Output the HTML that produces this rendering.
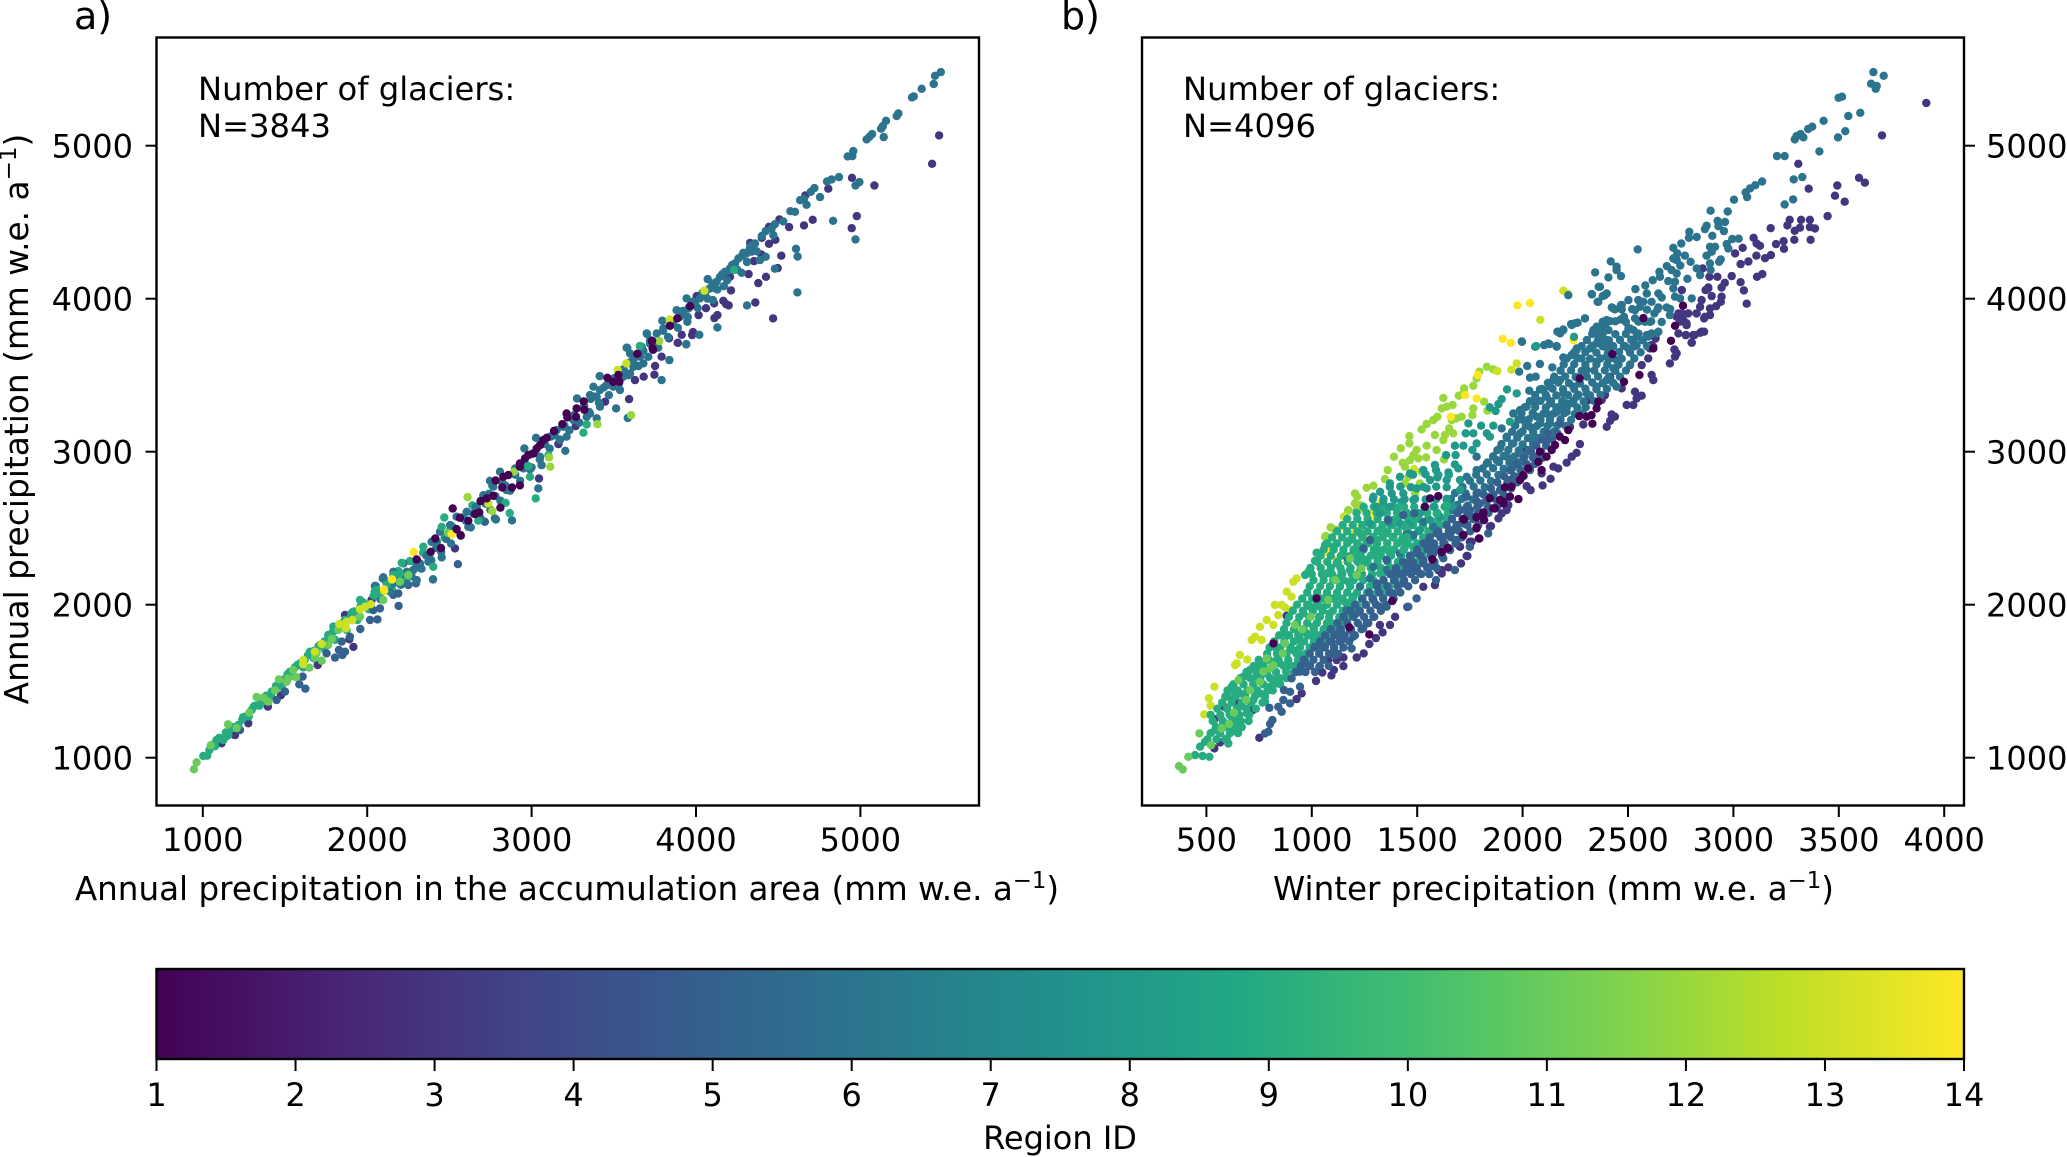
<!DOCTYPE html>
<html lang="en">
<head>
<meta charset="utf-8">
<title>Annual precipitation scatter plots</title>
<style>
html,body{margin:0;padding:0;background:#fff;}
svg{display:block;font-family:"DejaVu Sans","Liberation Sans",sans-serif;fill:#000;}
text{font-size:32px;}
</style>
</head>
<body>
<svg id="figure" xmlns="http://www.w3.org/2000/svg" width="2067" height="1157" viewBox="0 0 2067 1157">
<defs><linearGradient id="viridis-gradient" x1="0" x2="1" y1="0" y2="0"></linearGradient></defs>
<rect x="0" y="0" width="2067" height="1157" fill="#fff"/>
<g id="pointsA"></g>
<g id="pointsB"></g>
<rect id="colorbarFill" x="156.5" y="969" width="1807.5" height="90" fill="url(#viridis-gradient)"/>
<g id="ticks" stroke="#000" stroke-width="2"></g>
<g id="tickLabels"></g>
<rect x="156.5" y="37.5" width="822.5" height="768" fill="none" stroke="#000" stroke-width="2.4"/>
<rect x="1142" y="37.5" width="822" height="768" fill="none" stroke="#000" stroke-width="2.4"/>
<rect x="156.5" y="969" width="1807.5" height="90" fill="none" stroke="#000" stroke-width="2.4"/>
<text x="74" y="29" style="font-size:38px">a)</text>
<text x="1061" y="29" style="font-size:38px">b)</text>
<text x="198" y="100" style="font-size:32.2px">Number of glaciers:</text>
<text x="198" y="137" style="font-size:32.2px">N=3843</text>
<text x="1183" y="100" style="font-size:32.2px">Number of glaciers:</text>
<text x="1183" y="137" style="font-size:32.2px">N=4096</text>
<text x="567" y="900" text-anchor="middle" style="font-size:32.6px">Annual precipitation in the accumulation area (mm w.e. a<tspan dy="-12" style="font-size:22.8px">−1</tspan><tspan dy="12">)</tspan></text>
<text x="1553.5" y="900" text-anchor="middle" style="font-size:32.6px">Winter precipitation (mm w.e. a<tspan dy="-12" style="font-size:22.8px">−1</tspan><tspan dy="12">)</tspan></text>
<text transform="translate(28,419) rotate(-90)" text-anchor="middle" style="font-size:32.8px">Annual precipitation (mm w.e. a<tspan dy="-12" style="font-size:23px">−1</tspan><tspan dy="12">)</tspan></text>
<text x="1060" y="1149" text-anchor="middle">Region ID</text>
<script>
// ---------- tick labels ----------
const xTicksA = [1000, 2000, 3000, 4000, 5000];
const yTicksShared = [1000, 2000, 3000, 4000, 5000];
const xTicksB = [500, 1000, 1500, 2000, 2500, 3000, 3500, 4000];
const colorbarTicks = [1, 2, 3, 4, 5, 6, 7, 8, 9, 10, 11, 12, 13, 14];

// ---------- panel a: [accumulation-area precipitation, annual precipitation] ----------
const panelARegion3 = [[5479,5067],[5436,4882],[4949,4790],[5085,4740],[4805,4719],[4665,4675],[4978,4540],[4947,4461],[4710,4516],[4657,4479],[4566,4468],[4507,4518],[4444,4470],[4483,4385],[4444,4359],[4519,4281],[4398,4289],[4353,4246],[4497,4200],[4426,4143],[4320,4161],[4379,4102],[4213,4054],[4207,4143],[4361,3975],[4469,3871],[4183,3965],[4199,3956],[4166,3986],[4130,3893],[4112,3873],[4061,3938],[4110,3969],[4016,3893],[3982,3782],[3976,3762],[3889,3712],[3836,3742],[3913,3764],[4004,4017],[3974,3969],[3903,3904],[4400,4398],[4329,4365],[3791,3621],[3751,3560],[3747,3503],[3682,3490],[3593,3344],[3629,3468],[3889,3712],[3836,3741],[3163,3050],[3045,2825],[3268,3167],[2534,2368],[3447,3327],[1916,1724],[1891,1774],[1699,1606],[1475,1408],[1396,1334],[1277,1225],[1196,1148],[1114,1094],[1865,1933],[2027,2031]];
const panelARegion5 = [[1624,1451],[1587,1480],[1607,1530],[1804,1654],[1849,1671],[1865,1693],[1828,1704],[1845,1759],[1753,1682],[1895,1791],[1958,1841],[2017,1900],[2062,1904],[2037,1965],[2078,1976],[2191,1992],[2159,2064],[2189,2074],[2250,2129],[2297,2140],[2051,2122],[2098,2179],[2400,2166],[1926,1955],[1449,1377],[1500,1432],[1226,1181],[2716,2542],[2777,2564],[2552,2265]];
const panelARegion6 = [[5489,5481],[5454,5457],[5446,5403],[5373,5372],[5314,5316],[5325,5322],[5231,5211],[5221,5194],[5156,5163],[5136,5128],[5126,5111],[5142,5056],[5071,5076],[5055,5058],[5038,5041],[4957,4965],[4951,4932],[4923,4930],[4870,4795],[4825,4780],[4797,4766],[4994,4762],[4970,4740],[4754,4664],[4720,4723],[4698,4699],[4673,4614],[4657,4653],[4633,4644],[4602,4568],[4574,4572],[4834,4509],[4970,4387],[4531,4505],[4480,4487],[4460,4459],[4424,4442],[4470,4416],[4608,4326],[4618,4276],[4480,4196],[4617,4041],[4310,3956],[4130,3812],[4020,3764],[3941,3701],[4329,4339],[4308,4296],[4339,4307],[4359,4361],[4288,4300],[4258,4263],[4237,4230],[4207,4198],[4176,4176],[4146,4143],[4126,4111],[4116,4067],[4170,4082],[4071,4128],[4055,4034],[4024,4002],[3994,3969],[3943,4002],[3953,3936],[3923,3904],[3882,3925],[3947,3849],[3903,3882],[3795,3856],[3801,3806],[3761,3773],[3702,3769],[3720,3729],[3659,3690],[3582,3679],[4103,3991],[4278,4169],[4389,4252],[4424,4274],[3791,3468],[3838,3599],[3941,3703],[3585,3220],[3578,3680],[3414,3494],[3276,3348],[3514,3283],[3205,3006],[3027,3091],[2956,3021],[3041,2760],[2881,2551],[2783,2557],[2400,2165],[3700,3773],[3670,3686],[3660,3621],[3599,3642],[3680,3577],[3619,3555],[3599,3512],[3558,3490],[3538,3403],[3497,3425],[3457,3435],[3416,3403],[3376,3425],[3355,3370],[3396,3359],[3416,3294],[3355,3250],[3396,3218],[3335,3228],[3254,3207],[3193,3163],[3152,3141],[3213,3098],[3173,3076],[3112,3098],[3051,2967],[3061,2912],[3000,2897],[2950,2891],[2808,2869],[2747,2810],[2767,2771],[2848,2749],[2706,2716],[2666,2640],[2645,2597],[2605,2607],[2544,2575],[2615,2509],[2504,2520],[2443,2477],[2392,2411],[2453,2309],[2372,2281],[2280,2226],[2301,2161],[2220,2270],[2159,2215],[2094,2172],[2047,2122],[2199,2183],[2240,2139],[2321,2270],[2159,2139]];
const panelARegion6Band = [[2080,2040],[2110,2100],[2140,2085],[2175,2160],[2205,2130],[2240,2215],[2270,2185],[2300,2265],[2330,2235],[2360,2320],[2390,2290],[2420,2370],[2450,2345],[2480,2430],[2510,2400],[2540,2490],[2570,2450],[2600,2550],[2630,2505],[2660,2610],[2690,2565],[2720,2660],[2750,2620],[2780,2710],[2810,2680],[2840,2780],[2870,2745],[2900,2850],[2930,2810],[2960,2920],[2990,2885],[3020,2990],[3050,2950],[3080,3050],[3110,3020],[3140,3110],[3170,3080],[3200,3170],[3230,3140],[3260,3240],[3290,3190],[3320,3300],[3350,3260],[3380,3360],[3410,3320],[3440,3420],[3470,3370],[3500,3480],[3530,3440],[3560,3540],[3590,3500],[3620,3600],[3650,3560],[3680,3660],[3710,3620],[3740,3720],[3770,3680],[3800,3790],[3830,3750],[3860,3850],[3890,3810],[3920,3920],[3950,3880],[3980,3980],[4010,3940],[4040,4040],[4070,4000],[4100,4100],[4130,4060],[4160,4160],[4190,4120],[4220,4220],[4250,4190],[4280,4280],[4310,4240],[4340,4350],[4370,4310],[4400,4410],[2420,2410],[2500,2480],[2580,2565],[2660,2640],[2740,2725],[2820,2800],[2900,2890],[3000,2985],[3120,3100],[3240,3225],[3360,3345],[3480,3465],[3600,3585],[3720,3705],[3840,3825],[3960,3945],[4080,4065],[4200,4185],[4320,4310]];
const panelARegion9 = [[4232,4188],[3025,2695],[2867,2599],[2990,2836],[3315,3124],[3335,3178],[3102,2976],[2980,2906],[2676,2549],[2469,2570],[2402,2248],[2250,2189],[2210,2274],[2341,2379],[2453,2509],[2842,2666],[3659,3690],[1003,1011],[1027,1013],[1084,1116],[1125,1116],[1155,1148],[1216,1214],[1256,1268],[1297,1312],[1338,1344],[1378,1388],[1419,1432],[1469,1486],[1530,1562],[1591,1617],[1652,1693],[1713,1737],[1763,1802],[1814,1835],[1794,1857],[1916,1955],[1997,1998],[2078,2074],[2159,2194],[2199,2205],[2057,2096],[1865,1900],[1956,2031],[1060,1085],[1100,1130],[1140,1165],[1180,1200],[1240,1250],[1320,1340],[1360,1365],[1400,1400],[1450,1460],[1490,1510],[1560,1590],[1620,1640],[1680,1700],[1740,1760],[1790,1820],[1850,1880],[1900,1920],[1960,1990],[2040,2060],[2120,2130]];
const panelARegion9Band = [[1040,1050],[1075,1075],[1110,1125],[1145,1140],[1175,1190],[1210,1205],[1245,1265],[1280,1270],[1310,1335],[1345,1340],[1385,1405],[1415,1405],[1445,1470],[1480,1465],[1515,1545],[1545,1535],[1575,1605],[1610,1590],[1640,1670],[1675,1650],[1705,1730],[1740,1710],[1770,1800],[1805,1770],[1840,1870],[1875,1835],[1905,1945],[1940,1900],[1975,2015],[2010,1970],[2045,2085],[2080,2035],[2115,2150],[2150,2100],[2190,2220],[2225,2170],[2260,2285],[2295,2240],[2340,2340],[2380,2330],[2425,2410],[2470,2440],[2520,2510],[2580,2570],[2640,2650],[2700,2680],[2760,2780]];
const panelARegion11 = [[946,924],[962,970],[1048,1081],[1153,1218],[1206,1194],[1283,1294],[1327,1397],[1368,1392],[1398,1366],[1439,1440],[1463,1512],[1510,1497],[1520,1519],[1567,1527],[1550,1573],[1648,1589],[1682,1656],[1723,1634],[1692,1687],[1784,1776],[1763,1737],[1956,1922],[2098,2031],[2199,2151],[2250,2194],[1824,1835],[2491,2470],[2199,2150]];
const panelARegion12 = [[3777,3723],[3605,3239],[3400,3180],[3106,2963],[3114,2902],[2893,2869],[2611,2703],[2761,2612]];
const panelARegion13 = [[4051,4052],[3840,3864],[3576,3577],[3524,3534],[2737,2662],[1611,1639],[1611,1612],[1723,1743],[1682,1693],[1830,1874],[1875,1889],[1871,1846],[1910,1900],[1956,1970],[1987,1987],[2021,2003],[2104,2090],[2151,2166]];
const panelARegion14 = [[2514,2461],[2282,2344],[2151,2165],[2102,2100]];
const panelARegion1 = [[3732,3723],[3842,3823],[3886,3871],[3964,3951],[3736,3675],[3733,3725],[3739,3666],[3643,3640],[3497,3457],[3461,3483],[3528,3501],[3534,3457],[3317,3329],[3274,3283],[3321,3274],[3270,3228],[3213,3250],[3217,3224],[3187,3180],[3136,3135],[3092,3091],[3071,3076],[3051,3043],[3031,3021],[3011,2989],[2980,2978],[2960,2956],[2929,2923],[2929,2902],[2858,2847],[2828,2836],[2781,2812],[2822,2766],[2881,2766],[2929,2780],[2767,2712],[2727,2695],[2690,2677],[2810,2634],[2520,2629],[2564,2568],[2615,2549],[2656,2592],[2682,2603],[2544,2494],[2568,2455],[2414,2433],[2386,2346],[2449,2370],[2301,2296]];
const panelASeries = [[3, panelARegion3], [9, panelARegion9Band], [5, panelARegion5], [6, panelARegion6Band], [6, panelARegion6], [9, panelARegion9], [12, panelARegion12], [11, panelARegion11], [13, panelARegion13], [14, panelARegion14], [1, panelARegion1]];

// ---------- panel b: [winter precipitation, annual precipitation] ----------
const panelBRegion3 = [[3915,5279],[3705,5067],[3308,4882],[3596,4790],[3624,4758],[3493,4740],[3357,4719],[3482,4673],[3528,4634],[3447,4540],[3267,4516],[3321,4516],[3363,4516],[3256,4479],[3316,4464],[3363,4468],[3387,4459],[3291,4444],[3177,4461],[3289,4385],[3366,4385],[3238,4376],[3240,4326],[3202,4357],[3096,4398],[3126,4346],[3044,4333],[3008,4296],[3109,4281],[3178,4285],[3150,4265],[3071,4243],[3034,4226],[3137,4161],[3112,4143],[3034,4108],[2992,4148],[3050,4054],[3063,3967],[2959,4104],[2944,4073],[2924,4143],[2886,4143],[2854,4198],[2881,4073],[2868,4056],[2897,4017],[2944,4013],[2940,3980],[2918,3951],[2889,3936],[2849,3991],[2842,3947],[2889,3893],[2861,3871],[2826,3904],[2786,3904],[2755,3904],[2731,3882],[2763,3860],[2778,3827],[2739,3773],[2774,3762],[2815,3762],[2842,3777],[2861,3784],[2802,3712],[2720,3668],[2631,3740],[2597,3762],[2612,3697],[2755,4056],[3110,4361],[2272,3050],[2256,2993],[2233,2967],[2209,2928],[2169,2891],[2146,2902],[2133,2823],[2095,2780],[2090,2858],[2038,2749],[2019,2775],[1932,2651],[1901,2597],[1850,2514],[1750,2412],[1750,2379],[1703,2379],[1735,2318],[1708,2270],[1648,2244],[1600,2226],[1616,2204],[2225,3163],[2399,3163],[2415,3202],[2438,3229],[2422,3244],[2288,3178],[2494,3305],[2525,3305],[2565,3366],[2533,3392],[2541,3348],[2612,3501],[2620,3468],[2699,3577],[2723,3621],[2731,3643],[2620,3686],[2604,3675],[2596,3610],[2565,3566],[2509,3566],[2470,3414],[2415,3490],[2802,3714],[2849,3784],[2810,3762],[2775,3762],[2778,3839],[2747,3850],[2739,3904],[2825,3904],[2865,3882],[2881,4068],[2375,3338],[2312,3338],[2391,3370],[2067,3076],[2019,3011],[751,1130],[538,1061],[565,1100],[538,1252],[585,1333],[640,1370],[720,1311],[1020,1501],[952,1420],[928,1383],[1093,1538],[1105,1573],[1150,1599],[1150,1655],[1213,1655],[1246,1682],[1050,1557],[1036,1595],[1078,1638],[1118,1638],[1273,1743],[1304,1782],[1336,1819],[1323,1867],[1371,1867],[1395,1921],[1453,1985],[1529,2117],[1584,2128],[1616,2226],[1708,2270],[1738,2318],[1703,2379],[1885,2564],[1924,2619],[1845,2510],[1758,2412],[881,1928],[1023,2030]];
const panelBRegion12 = [[1624,3351],[1697,3366],[1722,3414],[1722,3385],[1766,3431],[1795,3523],[1782,3479],[1830,3555],[1861,3538],[1668,3305],[1640,3294],[1616,3283],[1596,3229],[1577,3207],[1545,3181],[1521,3146],[1687,3218],[1711,3229],[1664,3207],[1766,3283],[1762,3239],[1818,3327],[1833,3268],[1652,3152],[1632,3109],[1671,3120],[1584,3109],[1624,3076],[1463,3102],[1463,3054],[1545,3039],[1592,3011],[1422,3022],[1497,3011],[1390,2967],[1431,2928],[1542,2963],[1482,2978],[1627,2950],[1360,2880],[1347,2821],[1442,2902],[1466,2945],[1505,2956],[1458,2836],[1442,2793],[1490,2727],[1513,2793],[1521,2869],[1292,2778],[1260,2764],[1205,2727],[1216,2706],[1205,2662],[1221,2618],[1173,2618],[1153,2575],[1237,2629],[1090,2505],[1063,2444],[1110,2488],[1229,2651],[1213,2619],[1172,2614],[1089,2505],[1113,2488],[1066,2449],[1244,2488]];
const panelBRegion13 = [[1880,3527],[1972,3577],[1947,3536],[1486,2886],[1237,2520],[1252,2433],[1071,2281],[1118,2401],[2193,4052],[2214,4032],[2084,3862],[1157,2575],[928,2172],[912,2150],[881,2085],[904,2052],[857,1998],[825,1998],[873,1982],[904,1965],[841,1932],[786,1900],[818,1867],[754,1856],[731,1791],[762,1769],[715,1769],[659,1671],[694,1642],[644,1616],[636,1605],[538,1464],[512,1388],[520,1340],[490,1283],[1118,2292],[1126,2270]];
const panelBRegion14 = [[1975,3956],[2035,3971],[2241,3729],[1906,3738],[1944,3712],[1660,3229],[1782,3348],[1727,3370],[1787,3501],[1328,2669],[1279,2590],[1147,2510],[1200,2466],[1079,2346],[1078,2342],[1146,2510],[1279,2586],[1331,2667]];
const panelBRegion6 = [[2217,4023],[3664,5481],[3713,5457],[3653,5405],[3680,5390],[3675,5372],[3515,5320],[3499,5313],[3602,5215],[3545,5194],[3531,5095],[3496,5054],[3428,5163],[3374,5124],[3355,5109],[3408,4963],[3332,5054],[3319,5076],[3291,5041],[3300,5063],[3243,4932],[3207,4932],[3327,4795],[3286,4780],[3283,4649],[3243,4616],[3136,4766],[3104,4742],[3079,4721],[3058,4695],[3065,4664],[3003,4647],[2892,4575],[2973,4570],[2925,4509],[2960,4501],[2929,4474],[2955,4442],[2873,4477],[2865,4455],[2900,4411],[2826,4403],[2791,4437],[2789,4398],[2995,4390],[3025,4392],[2968,4357],[2976,4328],[2913,4339],[2889,4339],[2897,4307],[2873,4281],[2940,4257],[2932,4241],[2889,4230],[2892,4187],[2753,4361],[2715,4333],[2734,4296],[2770,4281],[2715,4263],[2731,4252],[2797,4241],[2748,4217],[2684,4213],[2707,4187],[2731,4165],[2826,4198],[2842,4154],[2546,4322],[2418,4244],[2446,4209],[2446,4187],[2344,4172],[2407,4139],[2467,4148],[2649,4176],[2652,4143],[2617,4121],[2691,4115],[2723,4111],[2782,4130],[2582,4087],[2535,4063],[2715,4067],[2361,4078],[2399,4034],[2380,4017],[2329,4028],[2356,3980],[2644,4034],[2660,4008],[2589,4034],[2502,3991],[2549,3991],[2573,3980],[2612,3980],[2723,4013],[2747,4002],[2802,4002],[2467,3958],[2438,3930],[2423,3943],[2533,3925],[2557,3947],[2683,3943],[2644,3943],[2481,3882],[2465,3864],[2533,3871],[2415,3853],[2399,3849],[2625,3904],[2699,3893],[2604,3849],[2581,3849],[2296,3871],[2261,3843],[2230,3834],[2193,3799],[2165,3784],[2178,3773],[2359,3816],[2391,3816],[2336,3795],[2367,3773],[2502,3806],[2525,3795],[2644,3784],[2612,3773],[2589,3762],[2541,3751],[2525,3718],[2486,3690],[2351,3707],[2399,3729],[2407,3679],[2320,3675],[2257,3675],[2162,3690],[2127,3703],[2102,3697],[1997,3718],[2146,3468],[2177,3468],[2130,3425],[2098,3403],[2114,3359],[2193,3381],[2241,3425],[2272,3446],[2304,3381],[2351,3425],[2256,3359],[2209,3316],[2177,3294],[2130,3316],[2067,3338],[2019,3294],[1988,3272],[1956,3250],[2003,3207],[2067,3229],[2114,3250],[2035,3163],[1988,3120],[1924,3098],[1901,3152],[2082,3185],[2162,3261],[1956,3054],[1893,3022],[1782,2967],[1830,2924],[1782,2880],[1735,2836],[1877,2945],[1924,2967],[1988,2989],[2051,3076],[2130,3185],[2209,3261],[2241,3316],[2399,3468],[2446,3425],[2367,4078],[2328,4030],[2359,3980],[2391,4024],[2169,3784],[2193,3795],[2248,3839],[2296,3871],[2233,3828],[2256,3664],[2233,3632],[2280,3610],[2304,3534],[2351,3588],[2399,3621],[2446,3599],[2430,3545],[2383,3730],[2335,3773],[2351,3817],[2399,3860],[2407,3795],[2430,3937],[2470,3959],[2478,3871],[2509,3806],[2541,3697],[2501,3675],[2596,3752],[2636,3773],[1996,3721],[2060,3686],[2122,3708],[2162,3686],[1984,3523],[2022,3560],[2082,3573],[2035,3484],[2062,3490],[2141,3551],[2193,3616],[2032,3399],[2082,3407],[1165,2313],[1229,2215],[1292,2248],[1355,2226],[1229,2118],[1276,2172],[1165,1965],[1134,1834],[1213,1943],[1418,2335],[1450,2466],[1529,2542],[1576,2510],[1671,2619],[1482,2455]];
const panelBRegion6Dense = [[1640,2650],[1690,2652],[1740,2648],[1660,2690],[1712,2692],[1765,2688],[1680,2730],[1730,2728],[1790,2732],[1715,2770],[1768,2772],[1820,2768],[1750,2810],[1800,2812],[1850,2808],[1780,2850],[1830,2852],[1885,2848],[1810,2890],[1860,2892],[1910,2888],[1950,2890],[1835,2930],[1888,2932],[1938,2928],[1985,2930],[1860,2970],[1910,2972],[1960,2968],[2010,2970],[1880,3010],[1932,3012],[1982,3008],[2030,3010],[1900,3050],[1950,3052],[2000,3048],[2050,3050],[1925,3090],[1975,3092],[2025,3088],[2075,3090],[1950,3130],[2000,3132],[2050,3128],[2100,3130],[2150,3132],[1965,3170],[2015,3172],[2068,3168],[2118,3170],[2165,3172],[2205,3168],[1980,3210],[2030,3212],[2085,3208],[2130,3210],[2180,3212],[2230,3208],[1995,3250],[2048,3252],[2098,3248],[2148,3250],[2198,3252],[2248,3248],[2285,3250],[2010,3290],[2060,3292],[2110,3288],[2160,3290],[2210,3292],[2260,3288],[2300,3290],[2035,3330],[2085,3332],[2135,3328],[2188,3330],[2240,3332],[2290,3328],[2340,3330],[2060,3370],[2110,3372],[2160,3368],[2215,3370],[2265,3372],[2320,3368],[2370,3370],[2090,3410],[2142,3412],[2192,3408],[2245,3410],[2298,3412],[2350,3408],[2400,3410],[2120,3450],[2170,3452],[2220,3448],[2270,3450],[2330,3452],[2380,3448],[2430,3450],[2150,3490],[2202,3492],[2252,3488],[2305,3490],[2358,3492],[2410,3488],[2462,3490],[2180,3530],[2230,3532],[2280,3528],[2340,3530],[2390,3532],[2440,3528],[2490,3530],[2195,3570],[2245,3572],[2298,3568],[2350,3570],[2402,3572],[2455,3568],[2510,3570],[2210,3610],[2260,3612],[2320,3608],[2370,3610],[2420,3612],[2470,3608],[2530,3610],[2245,3650],[2298,3652],[2350,3648],[2405,3650],[2458,3652],[2510,3648],[2560,3650],[2280,3690],[2330,3692],[2380,3688],[2430,3690],[2480,3692],[2530,3688],[2590,3690],[2305,3730],[2358,3732],[2410,3728],[2462,3730],[2515,3732],[2570,3728],[2330,3770],[2380,3772],[2440,3768],[2490,3770],[2550,3772],[2610,3768],[2380,3850],[2440,3852],[2490,3848],[2550,3850],[2610,3852],[2660,3848],[2470,3930],[2520,3932],[2590,3928],[2640,3930],[2700,3932]];
const panelBRegion8 = [[1584,2913],[1589,2880],[1561,2815],[1596,2832],[1640,2815],[1679,2917],[1695,2891],[1648,2865],[1703,2815],[1637,2978],[1682,2978],[1679,3039],[1719,3039],[1730,3120],[1766,3120],[1782,3054],[1762,3011],[1803,3170],[1743,3185],[1830,3120],[1845,3098],[1861,3170],[1872,3266],[1845,3290],[1926,3407],[1901,3344],[1972,3381],[1885,3311],[1940,3196],[2064,3690],[2244,3751],[1292,2706],[1324,2738],[1371,2793],[1418,2836],[1466,2858],[1529,2880],[1545,2760],[1497,2760],[1482,2684],[1434,2727],[1379,2727],[1339,2673],[1308,2640],[1276,2531],[1324,2597],[1371,2640],[1426,2673],[1371,2531],[1418,2531],[1466,2531],[1513,2597],[1577,2640],[1640,2684],[1671,2640],[1703,2749],[1608,2575],[1561,2553],[1513,2488],[1290,2690],[1340,2692],[1390,2688],[1440,2690],[1490,2692],[1540,2688],[1590,2690],[1640,2692],[1370,2770],[1420,2772],[1470,2768],[1530,2770],[1590,2772],[1640,2768],[1480,2850],[1540,2852],[1600,2848],[1650,2850]];
const panelBRegion9 = [[1450,2444],[1387,2444],[1339,2466],[1308,2422],[1268,2401],[1229,2379],[1197,2313],[1150,2335],[1118,2270],[1071,2204],[1181,2226],[1245,2270],[1308,2313],[1371,2335],[1434,2357],[1482,2379],[1387,2226],[1324,2204],[1229,2183],[1134,2183],[514,1006],[482,1011],[446,1017],[470,1072],[493,1104],[604,1093],[596,1126],[541,1180],[580,1224],[620,1202],[644,1170],[659,1224],[636,1257],[612,1289],[659,1333],[691,1289],[723,1377],[754,1420],[659,1420],[628,1442],[604,1398],[778,1366],[802,1464],[825,1507],[786,1551],[738,1529],[707,1573],[754,1616],[849,1616],[881,1595],[833,1714],[873,1812],[912,1703],[944,1769],[976,1812],[1007,1856],[1039,1921],[991,1987],[1039,1987],[960,1943],[1086,1943],[1071,2052],[1118,2052],[1157,2019],[1197,2052],[1134,2118],[1173,2150],[1142,2215],[1213,2292],[1229,2335],[1308,2401],[1260,2401],[1181,2422],[1292,2444],[1229,2466],[1387,2553],[1442,2510],[1482,2564],[1418,2640],[1592,2597],[1640,2651],[1355,2466],[1323,2488],[1316,2357],[1426,2422],[1379,2357],[1442,2379],[1260,2292],[1102,1878],[1007,1791],[936,1801],[944,1671],[833,1638],[738,1594],[675,1529],[620,1464],[1023,2340],[1015,2287],[984,2215],[968,2194],[1063,2390],[1102,2379]];
const panelBRegion9Dense = [[505,1120],[548,1120],[590,1120],[520,1160],[565,1160],[612,1160],[650,1160],[545,1200],[590,1200],[632,1200],[668,1200],[530,1240],[578,1240],[622,1240],[664,1240],[700,1240],[520,1280],[566,1280],[610,1280],[655,1280],[703,1280],[552,1320],[598,1320],[644,1320],[690,1320],[735,1320],[575,1360],[620,1360],[668,1360],[712,1360],[766,1360],[590,1400],[638,1400],[684,1400],[730,1400],[778,1400],[600,1440],[648,1440],[695,1440],[742,1440],[790,1440],[815,1440],[628,1480],[676,1480],[722,1480],[770,1480],[820,1480],[850,1480],[662,1520],[708,1520],[756,1520],[802,1520],[848,1520],[880,1520],[690,1560],[738,1560],[784,1560],[830,1560],[878,1560],[915,1560],[725,1600],[772,1600],[818,1600],[866,1600],[912,1600],[942,1600],[748,1640],[796,1640],[842,1640],[888,1640],[935,1640],[968,1640],[788,1680],[835,1680],[880,1680],[928,1680],[972,1680],[800,1720],[850,1720],[898,1720],[944,1720],[990,1720],[1022,1720],[822,1760],[870,1760],[915,1760],[964,1760],[1010,1760],[1052,1760],[845,1800],[892,1800],[940,1800],[986,1800],[1034,1800],[1080,1800],[868,1840],[915,1840],[962,1840],[1010,1840],[1056,1840],[1112,1840],[880,1880],[930,1880],[978,1880],[1024,1880],[1072,1880],[1120,1880],[1150,1880],[892,1920],[940,1920],[988,1920],[1034,1920],[1082,1920],[1130,1920],[1178,1920],[910,1960],[958,1960],[1005,1960],[1052,1960],[1100,1960],[1146,1960],[1195,1960],[1220,1960],[930,2000],[978,2000],[1024,2000],[1072,2000],[1120,2000],[1168,2000],[1215,2000],[1258,2000],[955,2040],[1002,2040],[1050,2040],[1096,2040],[1145,2040],[1192,2040],[1238,2040],[1290,2040],[978,2080],[1025,2080],[1072,2080],[1120,2080],[1168,2080],[1214,2080],[1262,2080],[1310,2080],[1352,2080],[990,2120],[1040,2120],[1086,2120],[1134,2120],[1182,2120],[1228,2120],[1276,2120],[1325,2120],[1370,2120],[1008,2160],[1056,2160],[1102,2160],[1150,2160],[1198,2160],[1245,2160],[1292,2160],[1340,2160],[1398,2160],[1000,2200],[1048,2200],[1096,2200],[1144,2200],[1190,2200],[1238,2200],[1286,2200],[1334,2200],[1382,2200],[1430,2200],[994,2240],[1042,2240],[1090,2240],[1136,2240],[1184,2240],[1232,2240],[1280,2240],[1328,2240],[1375,2240],[1422,2240],[1478,2240],[1026,2280],[1074,2280],[1122,2280],[1170,2280],[1218,2280],[1264,2280],[1312,2280],[1360,2280],[1408,2280],[1456,2280],[1505,2280],[1042,2320],[1090,2320],[1138,2320],[1186,2320],[1232,2320],[1280,2320],[1328,2320],[1376,2320],[1424,2320],[1472,2320],[1525,2320],[1056,2360],[1104,2360],[1150,2360],[1198,2360],[1246,2360],[1294,2360],[1342,2360],[1390,2360],[1438,2360],[1486,2360],[1535,2360],[1072,2400],[1120,2400],[1168,2400],[1216,2400],[1262,2400],[1310,2400],[1358,2400],[1406,2400],[1454,2400],[1502,2400],[1545,2400],[1096,2440],[1144,2440],[1192,2440],[1240,2440],[1288,2440],[1336,2440],[1384,2440],[1432,2440],[1480,2440],[1528,2440],[1560,2440],[1120,2480],[1168,2480],[1216,2480],[1264,2480],[1312,2480],[1360,2480],[1408,2480],[1456,2480],[1504,2480],[1552,2480],[1575,2480],[1146,2520],[1194,2520],[1240,2520],[1288,2520],[1336,2520],[1384,2520],[1432,2520],[1480,2520],[1528,2520],[1576,2520],[1610,2520],[1168,2560],[1216,2560],[1264,2560],[1312,2560],[1360,2560],[1408,2560],[1456,2560],[1504,2560],[1552,2560],[1600,2560],[1638,2560],[1212,2600],[1260,2600],[1308,2600],[1356,2600],[1404,2600],[1452,2600],[1500,2600],[1548,2600],[1596,2600],[1645,2600],[1246,2640],[1294,2640],[1342,2640],[1390,2640],[1438,2640],[1486,2640],[1534,2640],[1582,2640],[1630,2640],[1668,2640]];
const panelBRegion5 = [[1434,2204],[1482,2248],[1529,2292],[1577,2335],[1624,2401],[1592,2466],[1656,2466],[1687,2520],[1735,2575],[1750,2618],[1703,2618],[1798,2662],[1845,2706],[1893,2749],[1940,2815],[1988,2836],[2035,2902],[2067,2967],[2114,3076],[2177,3185],[1656,2357],[1561,2248],[1513,2204],[1782,2727],[1735,2706],[1798,2597],[1363,2553],[1486,2597],[1434,2586],[1276,2422],[1245,2368],[778,1159],[794,1170],[813,1246],[802,1220],[857,1300],[841,1333],[799,1326],[865,1377],[897,1355],[868,1442],[897,1431],[944,1464],[904,1518],[944,1562],[971,1616],[1039,1736],[1015,1725],[1063,1725],[1094,1682],[1110,1671],[1142,1769],[1189,1714],[1197,1791],[1244,1845],[1292,1921],[1323,1987],[1387,2074],[1434,2139],[1482,2215],[1529,2270],[1589,2161],[1679,2226],[1624,2303],[1576,2379],[1624,2444],[1671,2488],[1719,2531],[1758,2575],[1837,2466],[1750,2379],[1687,2422],[1292,2030],[1355,1987],[1260,1878],[1181,1834],[1308,2139],[1387,2205],[1450,2270],[1497,2335],[1545,2401],[1355,2292],[1458,1987],[1497,2041],[1118,1802],[1094,1758]];
const panelBRegion5Dense = [[925,1560],[970,1560],[1015,1560],[948,1600],[992,1600],[1038,1600],[1080,1600],[962,1640],[1008,1640],[1056,1640],[990,1680],[1035,1680],[1082,1680],[1125,1680],[1012,1720],[1058,1720],[1106,1720],[1150,1720],[1040,1760],[1086,1760],[1132,1760],[1178,1760],[1062,1800],[1108,1800],[1156,1800],[1205,1800],[1090,1840],[1138,1840],[1186,1840],[1236,1840],[1122,1880],[1168,1880],[1218,1880],[1268,1880],[1150,1920],[1198,1920],[1248,1920],[1296,1920],[1182,1960],[1228,1960],[1278,1960],[1328,1960],[1205,2000],[1255,2000],[1305,2000],[1352,2000],[1240,2040],[1288,2040],[1338,2040],[1388,2040],[1272,2080],[1320,2080],[1370,2080],[1420,2080],[1310,2120],[1358,2120],[1408,2120],[1458,2120],[1340,2160],[1390,2160],[1438,2160],[1490,2160],[1372,2200],[1420,2200],[1470,2200],[1520,2200],[1558,2200],[1400,2240],[1450,2240],[1498,2240],[1548,2240],[1592,2240],[1432,2280],[1480,2280],[1530,2280],[1582,2280],[1465,2320],[1515,2320],[1565,2320],[1618,2320],[1500,2360],[1550,2360],[1600,2360],[1650,2360],[1530,2400],[1580,2400],[1630,2400],[1682,2400],[1560,2440],[1610,2440],[1660,2440],[1712,2440],[1600,2480],[1650,2480],[1700,2480],[1752,2480],[1640,2520],[1690,2520],[1738,2520],[1790,2520],[1665,2560],[1715,2560],[1765,2560],[1815,2560],[1690,2600],[1738,2600],[1788,2600],[1838,2600],[1735,2640],[1785,2640],[1835,2640],[1880,2640],[1780,2680],[1828,2680],[1878,2680],[1920,2680],[1815,2720],[1862,2720],[1910,2720],[1850,2760],[1898,2760],[1945,2760],[1880,2800],[1928,2800],[1975,2800],[1912,2840],[1960,2840],[2005,2840],[1940,2880],[1990,2880],[2035,2880],[1970,2920],[2018,2920],[2060,2920],[2005,2960],[2050,2960],[2095,2960],[2040,3000],[2088,3000],[2065,3040],[2112,3040],[2092,3080],[2140,3080],[2120,3120],[2165,3120]];
const panelBRegion11 = [[467,1159],[370,945],[388,923],[414,1006],[522,1082],[631,1294],[572,1191],[607,1220],[688,1377],[707,1442],[754,1496],[652,1507],[786,1649],[818,1605],[862,1682],[873,1747],[920,1867],[995,1921],[955,1839],[1078,2030],[1110,2161],[1213,2194],[1181,2303],[1236,2237],[802,1584],[770,1562]];
const panelBRegion1 = [[2761,3954],[2573,3873],[2723,3823],[2704,3725],[2620,3675],[2271,3479],[2426,3638],[2554,3501],[2481,3457],[2359,3327],[2351,3283],[2327,3239],[2304,3229],[2269,3233],[2331,3183],[2217,3141],[2201,3076],[2177,3098],[2154,3043],[2138,3011],[2114,2967],[2082,3000],[2075,2934],[2090,2880],[2027,2891],[2003,2847],[1988,2815],[1948,2771],[1916,2767],[1940,2706],[1980,2690],[1893,2684],[1909,2662],[1845,2695],[1869,2629],[1814,2603],[1782,2571],[1722,2557],[1818,2553],[1782,2499],[1719,2455],[1793,2433],[1648,2370],[1616,2344],[1572,2296],[1561,2695],[1600,2710],[1537,2640],[818,1747],[1273,1806],[1178,1852],[1023,2041],[1382,2024],[1572,2296],[1616,2346],[1644,2370],[1719,2455],[1795,2433],[1719,2558],[1782,2505],[1782,2571],[1861,2630],[1814,2597],[1908,2673]];
const panelBSeries = [[3, panelBRegion3], [12, panelBRegion12], [13, panelBRegion13], [14, panelBRegion14], [9, panelBRegion9Dense], [6, panelBRegion6Dense], [6, panelBRegion6], [8, panelBRegion8], [9, panelBRegion9], [5, panelBRegion5Dense], [5, panelBRegion5], [11, panelBRegion11], [1, panelBRegion1]];

// ---------- scales ----------
function xA(v) { return 202.8 + (v - 1000) * 0.1644; }
function yAxis(v) { return 757.7 - (v - 1000) * 0.153; }
function xB(v) { return 1206.4 + (v - 500) * 0.2108; }
function xBar(v) { return 156.5 + (v - 1) * (1807.5 / 13); }

const viridisStops = ['#440154', '#482475', '#414487', '#355f8d', '#2a788e', '#21918c', '#22a884', '#44bf70', '#7ad151', '#bddf26', '#fde725'];
function regionColor(region) {
  const t = (region - 1) / 13 * (viridisStops.length - 1);
  const i = Math.min(Math.floor(t), viridisStops.length - 2);
  const f = t - i;
  const a = viridisStops[i], b = viridisStops[i + 1];
  let out = '#';
  for (let k = 1; k < 7; k += 2) {
    const c = Math.round(parseInt(a.substr(k, 2), 16) * (1 - f) + parseInt(b.substr(k, 2), 16) * f);
    out += c.toString(16).padStart(2, '0');
  }
  return out;
}

const NS = 'http://www.w3.org/2000/svg';
const grad = document.getElementById('viridis-gradient');
viridisStops.forEach(function (color, i) {
  const stop = document.createElementNS(NS, 'stop');
  stop.setAttribute('offset', i / (viridisStops.length - 1));
  stop.setAttribute('stop-color', color);
  grad.appendChild(stop);
});

function drawSeries(parentId, series, xScale, name) {
  const parent = document.getElementById(parentId);
  series.forEach(function (entry) {
    const color = regionColor(entry[0]);
    entry[1].forEach(function (pt) {
      const c = document.createElementNS(NS, 'circle');
      c.setAttribute('cx', xScale(pt[0]).toFixed(1));
      c.setAttribute('cy', yAxis(pt[1]).toFixed(1));
      c.setAttribute('r', '4.2');
      c.setAttribute('fill', color);
      
      
      parent.appendChild(c);
    });
  });
}
drawSeries('pointsA', panelASeries, xA, 'glacier-point-a');
drawSeries('pointsB', panelBSeries, xB, 'glacier-point-b');

const tickGroup = document.getElementById('ticks');
const labelGroup = document.getElementById('tickLabels');
function addTick(x1, y1, x2, y2, name) {
  const l = document.createElementNS(NS, 'line');
  l.setAttribute('x1', x1);
  l.setAttribute('y1', y1);
  l.setAttribute('x2', x2);
  l.setAttribute('y2', y2);
  
  
  tickGroup.appendChild(l);
}
function addLabel(x, y, anchor, value, name) {
  const t = document.createElementNS(NS, 'text');
  t.setAttribute('x', x);
  t.setAttribute('y', y);
  t.setAttribute('text-anchor', anchor);
  
  
  t.textContent = value;
  labelGroup.appendChild(t);
}
xTicksA.forEach(function (v) {
  addTick(xA(v), 805.5, xA(v), 817, 'x-tick-a');
  addLabel(xA(v), 851, 'middle', v, 'x-tick-label-a');
});
xTicksB.forEach(function (v) {
  addTick(xB(v), 805.5, xB(v), 817, 'x-tick-b');
  addLabel(xB(v), 851, 'middle', v, 'x-tick-label-b');
});
yTicksShared.forEach(function (v) {
  addTick(145.5, yAxis(v), 156.5, yAxis(v), 'y-tick-a');
  addLabel(133, yAxis(v) + 11.6, 'end', v, 'y-tick-label-a');
  addTick(1964, yAxis(v), 1975, yAxis(v), 'y-tick-b');
  addLabel(1986, yAxis(v) + 11.6, 'start', v, 'y-tick-label-b');
});
colorbarTicks.forEach(function (v) {
  addTick(xBar(v), 1059, xBar(v), 1071, 'colorbar-tick');
  addLabel(xBar(v), 1106, 'middle', v, 'colorbar-tick-label');
});
</script>
</svg>
</body>
</html>
